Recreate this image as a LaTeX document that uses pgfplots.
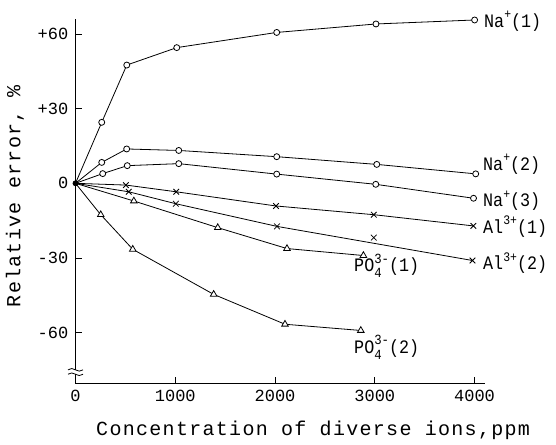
\documentclass[border=0pt]{standalone}
\usepackage{fontspec}
\setmainfont{Liberation Mono}
\newfontfamily\lblfont[FakeStretch=0.88]{Liberation Mono}
\newfontfamily\axfont[LetterSpace=6.5]{Liberation Mono}
\usepackage{pgfplots}
\pgfplotsset{compat=1.18}

% ion with charge: Na^+, Al^{3+}
\newcommand{\ion}[2]{#1\raisebox{0.85ex}{\fontsize{13}{13}\selectfont #2}}
% PO_4^{3-}
\newcommand{\po}[1]{PO\rlap{\raisebox{0.85ex}{\fontsize{14}{14}\selectfont 3-}}%
  \raisebox{-0.6ex}{\fontsize{14}{14}\selectfont 4\hphantom{-}}(#1)}

\begin{document}
\begin{tikzpicture}
\begin{axis}[
  at={(0,0)}, anchor=south west,
  scale only axis, width=409pt, height=364.5pt,
  xmin=0, xmax=4100, ymin=-80.4, ymax=66,
  axis x line*=bottom, axis y line*=left,
  axis line style={line width=0.9pt, -},
  tick align=inside, major tick length=7pt,
  tick style={line width=0.8pt, black},
  xtick={0,1000,2000,3000,4000}, xticklabels={0,1000,2000,3000,4000},
  ytick={-60,-30,0,30,60}, yticklabels={-60,-30,0,+30,+60},
  /pgf/number format/assume math mode=true,
  ticklabel style={font=\fontsize{17}{17}\selectfont},
  xticklabel style={anchor=north, inner sep=0pt, yshift=-6.5pt},
  yticklabel style={anchor=east, inner sep=0pt, xshift=-7pt},
  xlabel={Concentration of diverse ions,ppm},
  ylabel={Relative error, \%},
  label style={font=\axfont\fontsize{20}{20}\selectfont},
  xlabel style={at={(axis description cs:0.581,-0.1276)}, anchor=center},
  ylabel style={at={(axis description cs:-0.148,0.514)}, anchor=center},
  clip=false,
  every axis plot/.append style={line width=0.8pt, black},
]
% Na+(1)
\addplot[mark=*, mark size=3pt, mark options={fill=white}, mark indices={2,3,4,5,6,7}]
  coordinates {(0,0) (263,24.5) (514,47.5) (1015,54.5) (2017,60.6) (3012,64.0) (4001,65.6)};
% Na+(2)
\addplot[mark=*, mark size=3pt, mark options={fill=white}, mark indices={2,3,4,5,6,7}]
  coordinates {(0,0) (263,8.4) (513,13.8) (1035,13.2) (2017,10.7) (3020,7.6) (4012,3.8)};
% Na+(3)
\addplot[mark=*, mark size=3pt, mark options={fill=white}, mark indices={2,3,4,5,6,7}]
  coordinates {(0,0) (273,3.9) (519,7.1) (1035,7.9) (2017,3.7) (3010,-0.4) (3990,-6.0)};
% Al3+(1)
\addplot[mark=x, mark size=4pt, mark indices={2,3,4,5,6}]
  coordinates {(0,0) (505,-0.7) (1010,-3.4) (2010,-9.1) (2990,-12.6) (3988,-17.1)};
% Al3+(2)
\addplot[mark=x, mark size=4pt, mark indices={2,3,4,5}]
  coordinates {(0,0) (534,-3.4) (1006,-8.2) (2020,-17.3) (3980,-31.0)};
\addplot[only marks, mark=x, mark size=4pt] coordinates {(2990,-21.8)};
% PO4 3-(1)
\addplot[mark=triangle*, mark size=3.8pt, mark options={fill=white}, mark indices={2,3,4,5}]
  coordinates {(0,0) (585,-7.1) (1426,-17.8) (2120,-26.2) (2886,-29.0)};
% PO4 3-(2)
\addplot[mark=triangle*, mark size=3.8pt, mark options={fill=white}, mark indices={2,3,4,5,6}]
  coordinates {(0,0) (253,-12.6) (574,-26.5) (1385,-44.6) (2100,-56.6) (2860,-59.1)};
% common origin
\addplot[only marks, mark=*, mark size=2.5pt] coordinates {(0,0)};

\begin{scope}[every node/.style={anchor=base west, inner sep=0pt,
    font=\lblfont\fontsize{19}{19}\selectfont}]
\node at (axis cs:4095,62.6) {\ion{Na}{+}(1)};
\node at (axis cs:4085,5.3) {\ion{Na}{+}(2)};
\node at (axis cs:4085,-9.5) {\ion{Na}{+}(3)};
\node at (axis cs:4085,-20.0) {\ion{Al}{3+}(1)};
\node at (axis cs:4085,-34.8) {\ion{Al}{3+}(2)};
\node at (axis cs:2792,-35.6) {\po{1}};
\node at (axis cs:2792,-68.2) {\po{2}};
\end{scope}

\coordinate (brk) at (axis cs:0,-75.8);
\end{axis}
% axis break on the y axis
\fill[white] ([xshift=-3pt,yshift=-1.6pt]brk) rectangle ([xshift=3pt,yshift=1.6pt]brk);
\foreach \dy in {2.2pt,-2.2pt}
  \draw[line width=0.8pt] ([xshift=-7.5pt,yshift=\dy]brk) sin +(3.75pt,1.3pt) cos +(3.75pt,-1.3pt)
    sin +(3.75pt,-1.3pt) cos +(3.75pt,1.3pt);
\pgfresetboundingbox
\path[use as bounding box] (-75.5pt,-60.5pt) rectangle (480.5pt,383.5pt);
\end{tikzpicture}
\end{document}
